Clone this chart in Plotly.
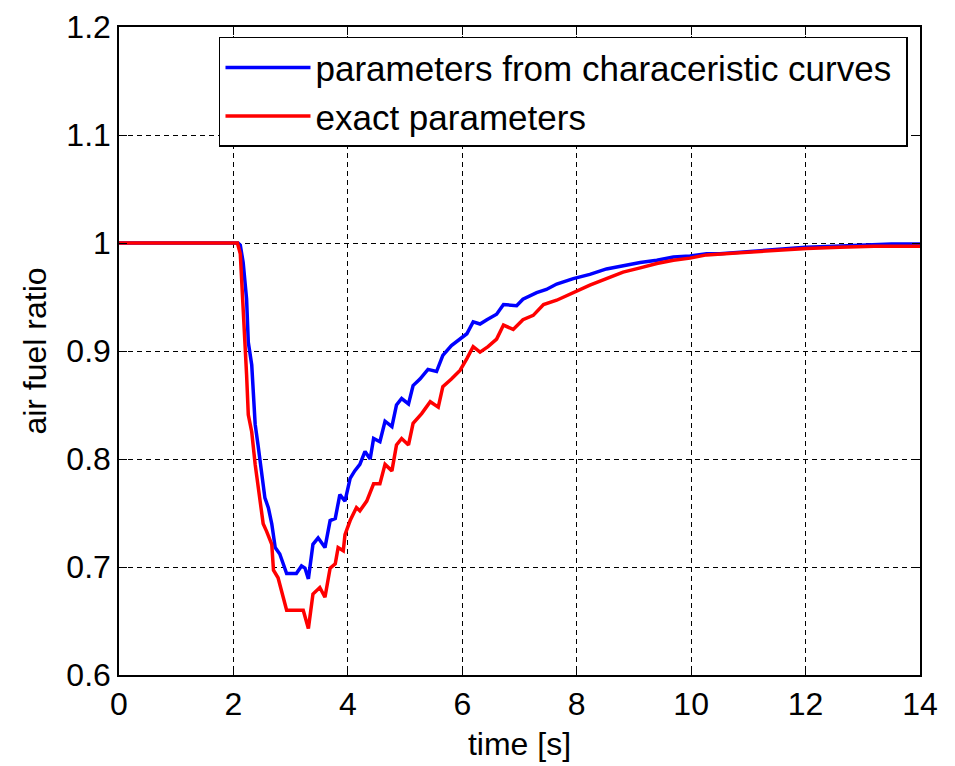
import plotly.graph_objects as go

# Data
time_blue = [0, 2.08, 2.12, 2.17, 2.23, 2.26, 2.32, 2.35, 2.38, 2.43, 2.49, 2.55, 2.61, 2.67, 2.73,
             2.81, 2.87, 2.93, 3.10, 3.19, 3.25, 3.31, 3.39, 3.48, 3.60, 3.69, 3.78, 3.86, 3.95,
             4.04, 4.12, 4.21, 4.30, 4.39, 4.45, 4.56, 4.65, 4.77, 4.85, 4.94, 5.06, 5.14, 5.26,
             5.40, 5.55, 5.66, 5.81, 5.96, 6.08, 6.19, 6.31, 6.43, 6.60, 6.72, 6.95, 7.06, 7.30,
             7.47, 7.65, 7.94, 8.23, 8.52, 8.81, 9.11, 9.40, 9.69, 9.98, 10.27, 10.50, 10.75,
             11.0, 11.5, 12.0, 12.5, 13.0, 13.5, 14.0]
afr_blue = [1.0, 1.0, 0.998, 0.982, 0.948, 0.908, 0.887, 0.862, 0.832, 0.813, 0.789, 0.764, 0.755,
            0.740, 0.718, 0.712, 0.703, 0.694, 0.694, 0.701, 0.699, 0.689, 0.721, 0.727, 0.718,
            0.743, 0.745, 0.767, 0.761, 0.782, 0.789, 0.795, 0.807, 0.800, 0.819, 0.816, 0.835,
            0.830, 0.850, 0.856, 0.851, 0.868, 0.874, 0.883, 0.881, 0.896, 0.905, 0.911, 0.916,
            0.927, 0.925, 0.929, 0.934, 0.943, 0.942, 0.948, 0.954, 0.957, 0.962, 0.967, 0.971,
            0.976, 0.979, 0.982, 0.984, 0.987, 0.988, 0.990, 0.990, 0.991, 0.992, 0.994, 0.996,
            0.997, 0.998, 0.999, 0.999]

time_red = [0, 2.07, 2.12, 2.17, 2.20, 2.23, 2.26, 2.32, 2.38, 2.46, 2.52, 2.58, 2.67, 2.70, 2.78,
            2.87, 2.93, 3.22, 3.31, 3.39, 3.51, 3.60, 3.69, 3.78, 3.83, 3.92, 3.95, 4.04, 4.15,
            4.21, 4.33, 4.45, 4.56, 4.65, 4.77, 4.85, 4.94, 5.06, 5.14, 5.29, 5.44, 5.58, 5.66,
            5.81, 5.96, 6.08, 6.19, 6.31, 6.45, 6.60, 6.72, 6.89, 7.06, 7.24, 7.42, 7.65, 7.94,
            8.23, 8.52, 8.81, 9.11, 9.40, 9.69, 9.98, 10.27, 10.85, 11.43, 12.02, 12.6, 13.2, 14.0]
afr_red = [1.0, 1.0, 0.99, 0.945, 0.908, 0.878, 0.841, 0.825, 0.795, 0.764, 0.740, 0.733, 0.721,
           0.697, 0.690, 0.672, 0.660, 0.660, 0.643, 0.675, 0.681, 0.672, 0.699, 0.703, 0.718,
           0.715, 0.730, 0.743, 0.755, 0.752, 0.761, 0.777, 0.777, 0.795, 0.789, 0.813, 0.819,
           0.813, 0.833, 0.842, 0.853, 0.848, 0.867, 0.874, 0.882, 0.893, 0.904, 0.899, 0.904,
           0.911, 0.924, 0.920, 0.929, 0.933, 0.943, 0.947, 0.954, 0.961, 0.967, 0.973, 0.977,
           0.981, 0.984, 0.986, 0.989, 0.991, 0.993, 0.995, 0.996, 0.997, 0.997]

x_ticks = [0, 2, 4, 6, 8, 10, 12, 14]
y_ticks = [0.6, 0.7, 0.8, 0.9, 1.0, 1.1, 1.2]
y_tick_labels = ["0.6", "0.7", "0.8", "0.9", "1", "1.1", "1.2"]
series_names = ["parameters from characeristic curves", "exact parameters"]

FONT = "Liberation Sans, Arial, sans-serif"

fig = go.Figure()
fig.add_trace(go.Scatter(x=time_blue, y=afr_blue, mode="lines",
                         name=series_names[0] + "\u00a0",
                         line=dict(color="#0000ff", width=3.5)))
fig.add_trace(go.Scatter(x=time_red, y=afr_red, mode="lines",
                         name=series_names[1],
                         line=dict(color="#ff0000", width=3.5)))

axis_common = dict(showline=True, linecolor="black", linewidth=1.5, mirror="ticks",
                   ticks="inside", ticklen=8, tickcolor="black", tickwidth=1,
                   showgrid=True, gridcolor="black", gridwidth=1, griddash="5px,4px",
                   zeroline=False, automargin=False, ticklabeloverflow="allow",
                   tickfont=dict(family=FONT, size=32, color="black"))

fig.update_xaxes(range=[0, 14], tickvals=x_ticks, **axis_common,
                 title=dict(text="time [s]", font=dict(family=FONT, size=32, color="black"), standoff=11))
fig.update_yaxes(range=[0.6, 1.2], tickvals=y_ticks, ticktext=y_tick_labels, **axis_common,
                 title=dict(text="air fuel ratio", font=dict(family=FONT, size=32, color="black"), standoff=10))

fig.update_layout(
    width=955, height=766,
    margin=dict(l=111, r=43, t=19, b=99, autoexpand=False),
    paper_bgcolor="white", plot_bgcolor="white",
    font=dict(family=FONT, size=32, color="black"),
    legend=dict(x=0.985, y=0.985, xanchor="right", yanchor="top",
                bgcolor="white", bordercolor="black", borderwidth=1.5,
                font=dict(family=FONT, size=35, color="black"),
                tracegroupgap=0, itemwidth=85),
    showlegend=True,
)

fig.write_html("out.html")
